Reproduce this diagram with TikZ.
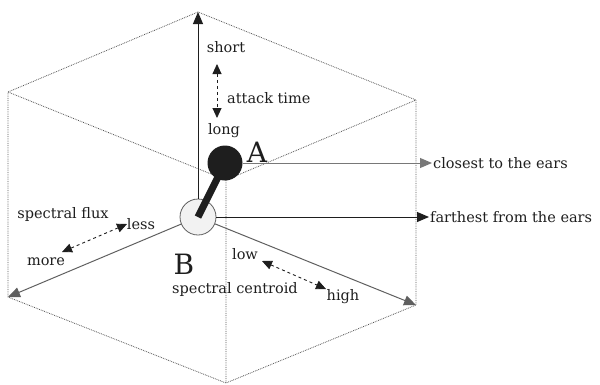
\documentclass[tikz,border=0pt]{standalone}
\usepackage{fontspec}
\setmainfont{DejaVu Serif}
\usetikzlibrary{arrows.meta,calc}
\definecolor{ink}{RGB}{30,30,30}
\definecolor{steel}{RGB}{95,95,95}
\definecolor{haze}{RGB}{120,120,120}
\definecolor{dots}{RGB}{85,85,85}
\definecolor{pearl}{RGB}{242,242,242}
\tikzset{
  >={Triangle[length=12pt,width=10pt]},
  edge/.style={draw=dots,densely dotted,line width=0.8pt},
  axis/.style={->,draw=#1,line width=1pt},
  axis/.default=ink,
  hint/.style={<->,dashed,draw=ink,line width=0.9pt,>={Triangle[length=10pt,width=9pt]}},
  tag/.style={font=\fontsize{14.5}{17}\selectfont,text=ink,inner sep=1pt},
  mark letter/.style={font=\fontsize{28}{30}\selectfont,text=ink,inner sep=0pt},
}

\begin{document}
\begin{tikzpicture}[x=1pt,y=-1pt]
  \useasboundingbox (0,0) rectangle (600,384);
  % cube corners
  \coordinate (top) at (198,12);
  \coordinate (ul) at (8,92);
  \coordinate (ur) at (416,100);
  \coordinate (ll) at (8,297);
  \coordinate (lr) at (416,305);
  \coordinate (bot) at (226,383);
  \coordinate (back) at (226,180);
  \draw[edge] (top) -- (ul) -- (ll) -- (bot) -- (lr) -- (ur) -- cycle;
  \draw[edge] (ul) -- (back) -- (ur) (back) -- (bot);

  % the two sources
  \node[circle,fill=pearl,draw=steel,line width=0.8pt,minimum size=36pt,inner sep=0pt] (b) at (198,217) {};
  \draw[ink,line width=7pt] (b.center) -- (225,163);
  \node[circle,fill=ink,minimum size=35pt,inner sep=0pt] (a) at (225,163) {};

  % axes
  \draw[axis] (b) -- (top);
  \draw[axis=steel] (b) -- (ll);
  \draw[axis=steel] (b) -- (lr);

  % ears
  \node[tag,anchor=west] (close) at (432,163) {closest to the ears};
  \node[tag,anchor=west] (far) at (429,217) {farthest from the ears};
  \draw[axis=haze] (a) -- (close);
  \draw[axis] (b) -- (far);
  \node[mark letter] (la) at (257,152) {A};
  \node[mark letter] (lb) at (184,264) {B};

  % attack time
  \node[tag] (short) at (226,47) {short};
  \node[tag] (long) at (224,131) {long};
  \node[tag,anchor=west] (attack) at (226,98) {attack time};
  \coordinate (t1) at (217,64);
  \coordinate (t2) at (217,118);
  \draw[hint] (t1) -- (t2);

  % spectral flux
  \node[tag] (flux) at (63,214) {spectral flux};
  \node[tag] (less) at (141,224) {less};
  \node[tag] (more) at (46,262) {more};
  \coordinate (f1) at (127,224);
  \coordinate (f2) at (62,252);
  \draw[hint] (f1) -- (f2);

  % spectral centroid
  \node[tag] (centroid) at (235,289) {spectral centroid};
  \node[tag] (low) at (245,254) {low};
  \node[tag] (high) at (343,297) {high};
  \coordinate (c1) at (262,261);
  \coordinate (c2) at (326,289);
  \draw[hint] (c1) -- (c2);
\end{tikzpicture}
\end{document}
